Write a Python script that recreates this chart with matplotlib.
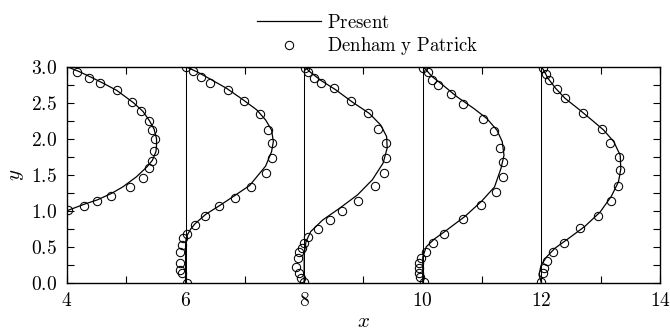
import numpy as np
import matplotlib
matplotlib.use("Agg")
import matplotlib.pyplot as plt
from matplotlib.ticker import MultipleLocator

plt.rcParams['font.family'] = 'serif'
plt.rcParams['font.serif'] = ['cmr10']
plt.rcParams['mathtext.fontset'] = 'cm'
plt.rcParams['axes.unicode_minus'] = False

# stations along the channel (profiles are drawn as x = station + u)
stations = [4, 6, 8, 10, 12]

# computed profiles (y, u)
sim_y = [
    [1.0, 1.09, 1.15, 1.24, 1.33, 1.47, 1.61, 1.70, 1.82, 1.91, 2.00, 2.13, 2.25, 2.38, 2.50, 2.67, 2.77, 2.84, 2.93, 3.0],
    [0.0, 0.55, 0.62, 0.68, 0.75, 0.82, 0.95, 1.08, 1.20, 1.35, 1.43, 1.62, 1.82, 1.96, 2.12, 2.26, 2.40, 2.54, 2.70, 2.83, 2.93, 3.0],
    [0.0, 0.38, 0.57, 0.71, 0.87, 1.03, 1.22, 1.43, 1.66, 1.87, 2.03, 2.19, 2.35, 2.51, 2.68, 2.81, 2.92, 3.0],
    [0.0, 0.36, 0.50, 0.61, 0.71, 0.92, 1.13, 1.33, 1.59, 1.77, 1.96, 2.12, 2.28, 2.42, 2.58, 2.75, 2.86, 2.97, 3.0],
    [0.0, 0.11, 0.25, 0.36, 0.48, 0.61, 0.78, 0.98, 1.20, 1.40, 1.58, 1.77, 1.96, 2.12, 2.26, 2.41, 2.56, 2.70, 2.84, 2.95, 3.0],
]
sim_u = [
    [0.0, 0.29, 0.51, 0.75, 0.94, 1.17, 1.35, 1.44, 1.50, 1.51, 1.51, 1.47, 1.39, 1.28, 1.12, 0.84, 0.61, 0.44, 0.21, 0.0],
    [0.0, 0.0, 0.01, 0.04, 0.09, 0.16, 0.34, 0.59, 0.81, 1.08, 1.16, 1.35, 1.45, 1.48, 1.45, 1.35, 1.20, 0.97, 0.69, 0.41, 0.19, 0.0],
    [0.0, 0.0, 0.03, 0.11, 0.31, 0.59, 0.90, 1.15, 1.33, 1.40, 1.39, 1.29, 1.10, 0.81, 0.53, 0.28, 0.11, 0.0],
    [0.0, 0.0, 0.06, 0.20, 0.37, 0.71, 0.99, 1.21, 1.32, 1.37, 1.34, 1.25, 1.08, 0.86, 0.58, 0.33, 0.16, 0.04, 0.0],
    [0.0, -0.04, 0.0, 0.09, 0.23, 0.45, 0.73, 0.99, 1.18, 1.30, 1.34, 1.33, 1.22, 1.05, 0.85, 0.63, 0.40, 0.24, 0.11, 0.04, 0.0],
]

# experimental profiles, Denham y Patrick (y, u)
exp_y = [
    [1.01, 1.07, 1.14, 1.20, 1.33, 1.45, 1.59, 1.69, 1.83, 2.00, 2.12, 2.25, 2.38, 2.51, 2.67, 2.78, 2.84, 2.92],
    [0.0, 0.13, 0.18, 0.28, 0.42, 0.52, 0.62, 0.67, 0.80, 0.93, 1.06, 1.18, 1.33, 1.52, 1.73, 1.94, 2.12, 2.34, 2.52, 2.67, 2.78, 2.85, 2.94, 3.0],
    [0.01, 0.07, 0.13, 0.22, 0.34, 0.42, 0.48, 0.55, 0.64, 0.75, 0.87, 1.00, 1.13, 1.35, 1.52, 1.73, 1.94, 2.13, 2.35, 2.53, 2.70, 2.78, 2.84, 2.93, 2.98],
    [0.01, 0.08, 0.14, 0.20, 0.27, 0.34, 0.42, 0.55, 0.68, 0.89, 1.08, 1.26, 1.47, 1.68, 1.87, 2.11, 2.27, 2.48, 2.62, 2.75, 2.82, 2.93, 2.98],
    [0.01, 0.13, 0.21, 0.30, 0.42, 0.55, 0.76, 0.93, 1.13, 1.35, 1.56, 1.75, 1.94, 2.14, 2.35, 2.56, 2.69, 2.81, 2.90, 2.98],
]
exp_u = [
    [0.02, 0.29, 0.51, 0.75, 1.07, 1.28, 1.39, 1.44, 1.46, 1.48, 1.44, 1.38, 1.25, 1.10, 0.85, 0.55, 0.37, 0.17],
    [0.02, -0.06, -0.09, -0.09, -0.09, -0.06, -0.04, 0.02, 0.16, 0.33, 0.57, 0.83, 1.11, 1.36, 1.46, 1.46, 1.39, 1.26, 0.99, 0.71, 0.42, 0.26, 0.12, 0.0],
    [0.0, -0.05, -0.08, -0.13, -0.10, -0.08, -0.04, 0.0, 0.07, 0.24, 0.43, 0.63, 0.90, 1.19, 1.34, 1.38, 1.38, 1.25, 1.07, 0.79, 0.51, 0.28, 0.17, 0.07, 0.01],
    [0.02, -0.05, -0.06, -0.07, -0.06, -0.03, 0.05, 0.17, 0.36, 0.68, 0.99, 1.23, 1.35, 1.35, 1.31, 1.20, 1.01, 0.68, 0.47, 0.26, 0.15, 0.08, 0.0],
    [0.0, 0.02, 0.05, 0.09, 0.19, 0.38, 0.66, 0.95, 1.17, 1.29, 1.33, 1.31, 1.16, 1.02, 0.71, 0.40, 0.26, 0.13, 0.08, 0.02],
]

x_ticks = [4, 6, 8, 10, 12, 14]
y_ticks = [0.0, 0.5, 1.0, 1.5, 2.0, 2.5, 3.0]

fig = plt.figure(figsize=(6.7, 3.35), dpi=100)
ax = fig.add_axes([0.1, 0.156, 0.885, 0.645])

# baselines of each profile
for s in stations[1:]:
    ax.axvline(s, color='black', lw=0.75, zorder=1)

for i, s in enumerate(stations):
    xs = s + np.array(sim_u[i])
    ax.plot(xs, sim_y[i], color='black', lw=0.9,
            label=r'$\mathrm{Present}$' if i == 0 else None)
    xe = s + np.array(exp_u[i])
    ax.plot(xe, exp_y[i], 'o', mfc='none', mec='black', ms=6, mew=0.75,
            label=r'$\mathrm{Denham\ y\ Patrick}$' if i == 0 else None)

ax.set_xlim(4, 14)
ax.set_ylim(0, 3)
ax.set_xticks(x_ticks)
ax.set_xticklabels([f'${v}$' for v in x_ticks])
ax.set_yticks(y_ticks)
ax.set_yticklabels([f'${v:.1f}$' for v in y_ticks])
ax.xaxis.set_minor_locator(MultipleLocator(1))
ax.yaxis.set_minor_locator(MultipleLocator(0.25))
ax.tick_params(which='both', direction='in', top=True, right=True,
               length=5, width=0.8, labelsize=14, pad=7)
for sp in ax.spines.values():
    sp.set_linewidth(1.0)

ax.set_xlabel(r'$x$', fontsize=15, labelpad=2)
ax.set_ylabel(r'$y$', fontsize=15, labelpad=4)

ax.legend(loc='lower center', bbox_to_anchor=(0.507, 1.0), frameon=False,
          fontsize=13.5, handlelength=3.4, handletextpad=0.3,
          labelspacing=0.2, borderpad=0.2, borderaxespad=0.3)

fig.savefig('out.png', dpi=100)
